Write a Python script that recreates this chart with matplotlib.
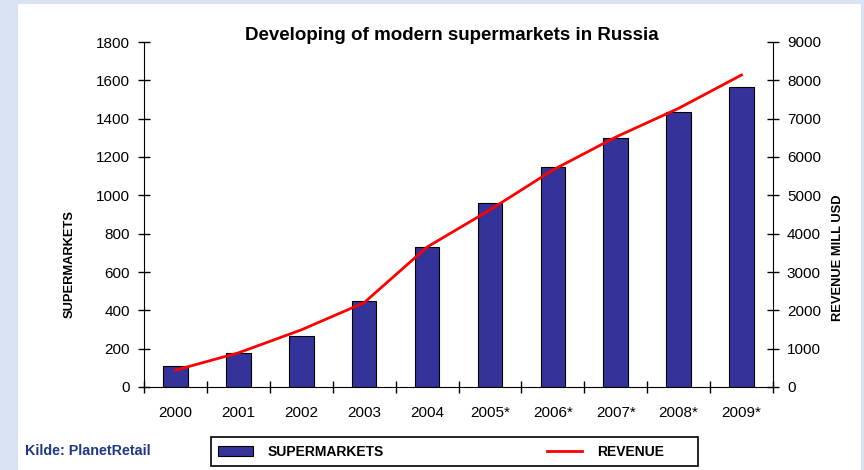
import numpy as np
import matplotlib.pyplot as plt
from matplotlib.patches import Rectangle
from matplotlib.lines import Line2D

plt.rcParams['font.family'] = ['Liberation Sans', 'DejaVu Sans']

years = ['2000', '2001', '2002', '2003', '2004', '2005*', '2006*', '2007*', '2008*', '2009*']
supermarkets = [110, 177, 266, 449, 730, 960, 1148, 1299, 1435, 1565]
revenue = [440, 890, 1490, 2200, 3650, 4620, 5660, 6520, 7270, 8140]

fig = plt.figure(figsize=(8.64, 4.70), dpi=100, facecolor='#d9e3f3')
# white panel behind everything
fig.patches.append(Rectangle((18 / 864, 0), (861 - 18) / 864, (470 - 4) / 470,
                             transform=fig.transFigure, facecolor='white',
                             edgecolor='none', zorder=-5))
# legend frame (drawn by hand, text is not centred in it)
fig.patches.append(Rectangle((211 / 864, 1 - 466 / 470), 487 / 864, 29 / 470,
                             transform=fig.transFigure, facecolor='white',
                             edgecolor='black', linewidth=1.2, zorder=-4))

ax = fig.add_axes([144 / 864, 83 / 470, 629 / 864, 345 / 470])
ax.set_facecolor('none')
x = np.arange(len(years))
ax.bar(x, supermarkets, width=0.39, color='#333399', edgecolor='black', linewidth=0.8, zorder=2)
ax.set_xlim(-0.5, 9.5)
ax.set_ylim(0, 1800)
ax.set_yticks(np.arange(0, 1801, 200))
ax.set_xticks(x)
ax.set_xticklabels(years)
ax.set_xticks(np.arange(-0.5, 9.6, 1), minor=True)
ax.tick_params(axis='x', which='major', length=0, pad=14, labelsize=11)
ax.tick_params(axis='x', which='minor', length=8, direction='inout', width=1)
ax.tick_params(axis='y', length=8, direction='inout', width=1, labelsize=11, pad=6)
ax.spines['top'].set_visible(False)
ax.spines['right'].set_visible(False)

ax2 = ax.twinx()
ax2.plot(x, revenue, color='red', linewidth=2, zorder=3)
ax2.set_ylim(0, 9000)
ax2.set_yticks(np.arange(0, 9001, 1000))
ax2.tick_params(axis='y', length=8, direction='inout', width=1, labelsize=11, pad=6)
ax2.spines['top'].set_visible(False)
ax2.spines['left'].set_visible(False)
ax2.spines['bottom'].set_visible(False)

fig.text(452 / 864, 1 - 36 / 470, 'Developing of modern supermarkets in Russia',
         ha='center', va='center', fontsize=13.5, fontweight='bold')
fig.text(70 / 864, 1 - 264 / 470, 'SUPERMARKETS', rotation=90, ha='center', va='center',
         fontsize=9.3, fontweight='bold')
fig.text(838 / 864, 1 - 258 / 470, 'REVENUE MILL USD', rotation=90, ha='center', va='center',
         fontsize=9.3, fontweight='bold')
fig.text(25 / 864, 1 - 451 / 470, 'Kilde: PlanetRetail', ha='left', va='center',
         fontsize=10.3, fontweight='bold', color='#1f3a84')

handles = [Rectangle((0, 0), 1, 1, facecolor='#333399', edgecolor='black', linewidth=0.8),
           Line2D([0], [0], color='red', linewidth=2)]
leg = fig.legend(handles, ['SUPERMARKETS', 'REVENUE'], ncol=2, loc='center left',
                 bbox_to_anchor=(218 / 864, 1 - 452 / 470), frameon=False,
                 prop={'weight': 'bold', 'size': 10}, borderpad=0, borderaxespad=0,
                 handlelength=2.5, handleheight=0.65, handletextpad=1.05,
                 columnspacing=11.8)

fig.savefig('out.png', dpi=100, facecolor=fig.get_facecolor())
